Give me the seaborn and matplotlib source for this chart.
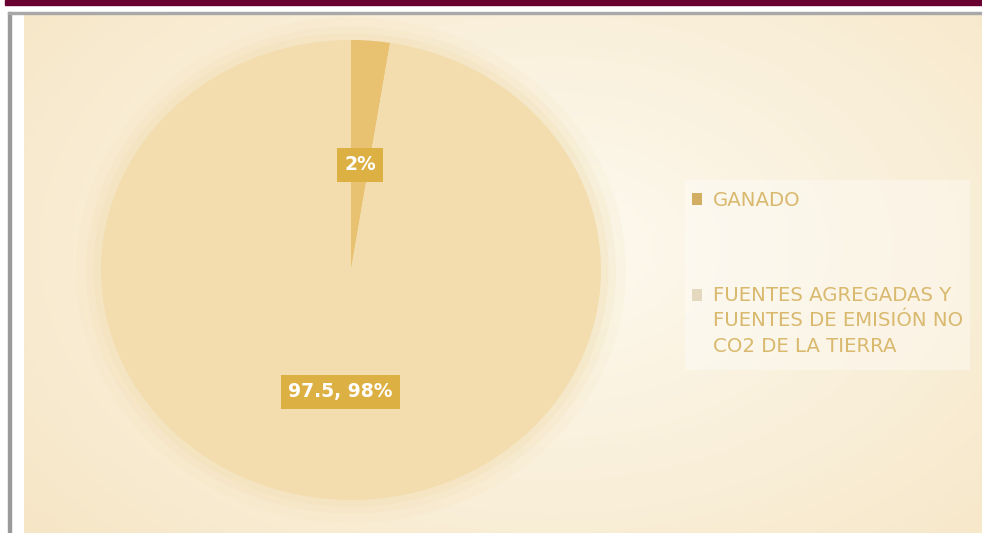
import numpy as np
import seaborn as sns
import matplotlib.pyplot as plt
from matplotlib.patches import Rectangle, Ellipse

# Data
categories = ["GANADO", "FUENTES AGREGADAS Y\nFUENTES DE EMISIÓN NO\nCO2 DE LA TIERRA"]
values = [2.5, 97.5]
value_labels = ["2%", "97.5, 98%"]

sns.set_theme(style="white")
plt.rcParams['font.family'] = ['DejaVu Sans']

slice_colors = ["#E8C271", "#F3DDAF"]
legend_colors = ["#D2AE62", "#E4D9BE"]
text_gold = "#D9B96E"

W, H = 982, 533
fig = plt.figure(figsize=(W / 100, H / 100), dpi=100, facecolor="white")

# top maroon bar and grey frame
fig.patches.append(Rectangle((5 / W, 1 - 5 / H), 1, 5 / H, transform=fig.transFigure,
                             color="#6A0032", zorder=0))
fig.patches.append(Rectangle((8 / W, 0), 3 / W, 1 - 12 / H, transform=fig.transFigure,
                             color="#9A9A9A", zorder=0))
fig.patches.append(Rectangle((8 / W, 1 - 14 / H), 1, 2 / H, transform=fig.transFigure,
                             color="#A8A8A8", zorder=0))

# background gradient
bg = fig.add_axes([24 / W, 0, (W - 24) / W, 1 - 14 / H])
xx, yy = np.meshgrid(np.linspace(0, 1, 400), np.linspace(0, 1, 220))
d = np.sqrt(((xx - 0.55) / 0.75) ** 2 + ((yy - 0.45) / 0.9) ** 2)
d = np.clip(d, 0, 1)
c_in = np.array([253, 250, 240]) / 255
c_out = np.array([246, 229, 196]) / 255
img = c_in[None, None, :] * (1 - d[..., None]) + c_out[None, None, :] * d[..., None]
bg.imshow(img, aspect="auto", extent=[0, 1, 0, 1])
bg.axis("off")

# light box behind the legend
fig.patches.append(Rectangle((685 / W, 1 - 370 / H), 285 / W, 190 / H, transform=fig.transFigure,
                             facecolor="white", alpha=0.35, edgecolor="none", zorder=1))

# pie
cx, cy, rx, ry = 351, H - 270, 250, 230
pad = 1.12
ax = fig.add_axes([(cx - rx * pad) / W, (cy - ry * pad) / H, 2 * rx * pad / W, 2 * ry * pad / H])
for k, a in [(1.10, 0.10), (1.06, 0.15), (1.03, 0.2)]:
    ax.add_patch(Ellipse((0, 0), 2 * k, 2 * k, color="#F1D9A6", alpha=a, lw=0, zorder=0))

wedges, texts, autotexts = ax.pie(values, colors=slice_colors, startangle=90, counterclock=False,
                                  autopct="%1.0f%%", pctdistance=0.5,
                                  wedgeprops=dict(linewidth=0))
label_dist = [0.46, 0.53]
for w, t, lab, r in zip(wedges, autotexts, value_labels, label_dist):
    ang = np.deg2rad((w.theta1 + w.theta2) / 2)
    t.set_position((r * np.cos(ang), r * np.sin(ang)))
    t.set_text(lab)
    t.set_color("white")
    t.set_fontsize(13.5)
    t.set_fontweight("bold")
    t.set_bbox(dict(boxstyle="square,pad=0.4", facecolor="#DCB042", edgecolor="none"))
ax.set_aspect("auto")
ax.set_xlim(-pad, pad)
ax.set_ylim(-pad, pad)
ax.axis("off")

fs = 14.2
leg = fig.legend(wedges, categories, loc="upper left", bbox_to_anchor=(692 / W, 1 - 191 / H),
                 frameon=False, fontsize=fs, handlelength=0.5, handleheight=0.5,
                 handletextpad=0.55, labelspacing=3.86, borderpad=0, borderaxespad=0)
for txt in leg.get_texts():
    txt.set_color(text_gold)
    txt.set_linespacing(1.42)
line_gap_pt = 26.5 * 72 / 100
for h, c, lab in zip(leg.legend_handles, legend_colors, categories):
    h.set_facecolor(c)
    # put the square next to the first text line
    n = lab.count("\n")
    h.set_y(h.get_y() + n / 2 * line_gap_pt)

fig.savefig("out.png", dpi=100, facecolor="white")
